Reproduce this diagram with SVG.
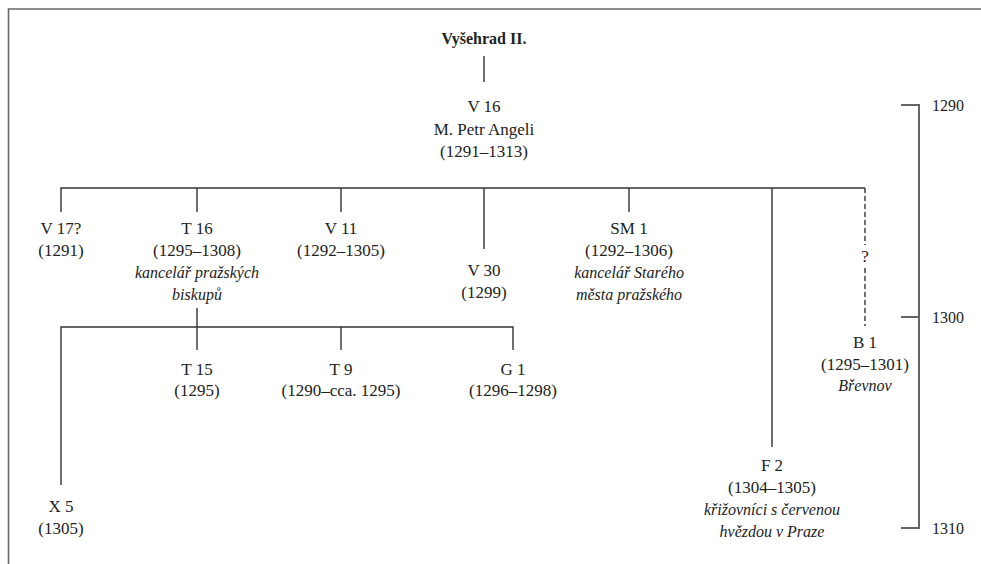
<svg xmlns="http://www.w3.org/2000/svg" width="981" height="564" viewBox="0 0 981 564">
<style>
text{font-family:"Liberation Serif","Times New Roman",serif;font-size:17px;fill:#222;text-anchor:middle}
.b{font-weight:bold;font-size:16px}
.i{font-style:italic;font-size:16px}
.y{text-anchor:start;font-size:16px}
.ln{stroke:#333;stroke-width:1.4;fill:none}
.ds{stroke:#333;stroke-width:1.4;fill:none;stroke-dasharray:5,3}
.tl{stroke:#666;stroke-width:2;fill:none}
</style>
<rect width="981" height="564" fill="#fff"/>
<path d="M8.5,564 V9 H981" stroke="#666" stroke-width="1.6" fill="none"/>
<g id="connectors">
<path class="ln" d="M484,56 V82"/>
<path class="ln" d="M61,212 V188 H865 M197,188 V212 M341,188 V212 M484,188 V249 M629,188 V212 M772,188 V447"/>
<path class="ds" d="M865,188 V245 M865,268 V326"/>
<path class="ln" d="M197,308 V350 M61,485 V327 H513 V350 M341,327 V350"/>
</g>
<g id="timeline">
<path class="tl" d="M901,105 H919 V528 H901 M901,317 H919"/>
<text class="y" x="932" y="111">1290</text>
<text class="y" x="932" y="323">1300</text>
<text class="y" x="932" y="534">1310</text>
</g>
<g id="root"><text class="b" x="484" y="44">Vyšehrad II.</text></g>
<g id="V16"><text x="484" y="112">V 16</text><text x="484" y="135">M. Petr Angeli</text><text x="484" y="157">(1291–1313)</text></g>
<g id="V17"><text x="61" y="234">V 17?</text><text x="61" y="256">(1291)</text></g>
<g id="T16"><text x="197" y="234">T 16</text><text x="197" y="256">(1295–1308)</text><text class="i" x="197" y="278">kancelář pražských</text><text class="i" x="197" y="300">biskupů</text></g>
<g id="V11"><text x="341" y="234">V 11</text><text x="341" y="256">(1292–1305)</text></g>
<g id="V30"><text x="484" y="276">V 30</text><text x="484" y="298">(1299)</text></g>
<g id="SM1"><text x="629" y="234">SM 1</text><text x="629" y="256">(1292–1306)</text><text class="i" x="629" y="278">kancelář Starého</text><text class="i" x="629" y="300">města pražského</text></g>
<g id="q"><text x="865" y="262" font-size="15">?</text></g>
<g id="B1"><text x="865" y="348">B 1</text><text x="865" y="370">(1295–1301)</text><text class="i" x="865" y="391">Břevnov</text></g>
<g id="F2"><text x="772" y="471">F 2</text><text x="772" y="493">(1304–1305)</text><text class="i" x="772" y="515">křižovníci s červenou</text><text class="i" x="772" y="537">hvězdou v Praze</text></g>
<g id="T15"><text x="197" y="375">T 15</text><text x="197" y="396">(1295)</text></g>
<g id="T9"><text x="341" y="375">T 9</text><text x="341" y="396">(1290–cca. 1295)</text></g>
<g id="G1"><text x="513" y="375">G 1</text><text x="513" y="396">(1296–1298)</text></g>
<g id="X5"><text x="61" y="512">X 5</text><text x="61" y="534">(1305)</text></g>
</svg>
